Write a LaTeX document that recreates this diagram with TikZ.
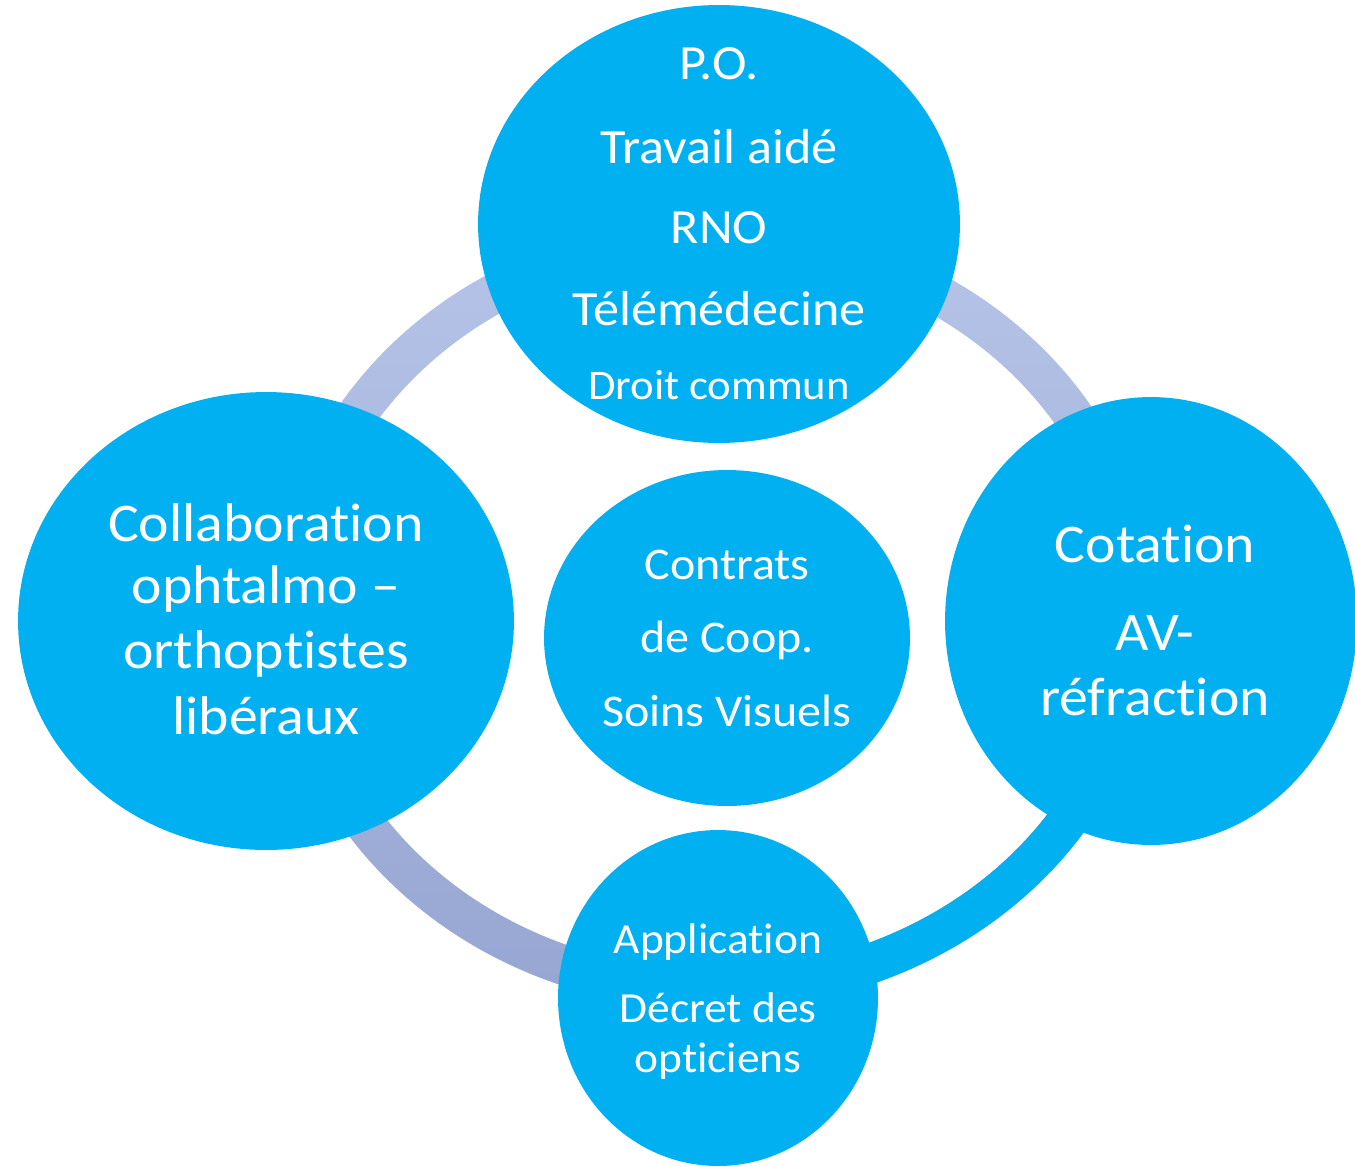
\documentclass[tikz,border=0pt]{standalone}
\usepackage{fontspec}
\setmainfont{Carlito}[FakeStretch=1.06, Ligatures={NoCommon}]
\usetikzlibrary{shapes.geometric}
\definecolor{bubblecyan}{RGB}{0,176,240}
\definecolor{ringtop}{RGB}{182,196,232}
\definecolor{ringbot}{RGB}{150,166,210}
\begin{document}
\begin{tikzpicture}[x=0.02cm,y=-0.02cm,
  bubble/.style={ellipse, fill=bubblecyan, draw=none, inner sep=0pt},
  lbl/.style={text=white, inner sep=0pt, anchor=base},
  big/.style={lbl, font=\fontsize{31}{36}\selectfont},
  mid/.style={lbl, font=\fontsize{28}{34}\selectfont},
  small/.style={lbl, font=\fontsize{25.8}{31}\selectfont},
  tiny/.style={lbl, font=\fontsize{24.4}{29}\selectfont},
  tinier/.style={lbl, font=\fontsize{24}{29}\selectfont},
]
\useasboundingbox (0,0) rectangle (1355,1166);

% cycle band behind the bubbles
\coordinate (ringc) at (715,614);
\shade[top color=ringtop, bottom color=ringbot, even odd rule]
  (ringc) ellipse [x radius=8.84cm, y radius=7.92cm]
  (ringc) ellipse [x radius=8.04cm, y radius=7.12cm];
% highlighted stretch of the band
\draw[bubblecyan, line width=0.8cm]
  (ringc) ++(-20:8.44cm and 7.52cm)
  arc[start angle=-20, end angle=-105, x radius=8.44cm, y radius=7.52cm];

% bubbles
\node[bubble, minimum width=9.64cm, minimum height=8.76cm] (top) at (719,224) {};
\node[bubble, minimum width=9.92cm, minimum height=9.16cm] (left) at (266,621) {};
\node[bubble, minimum width=8.24cm, minimum height=8.96cm] (right) at (1151,621) {};
\node[bubble, minimum width=7.32cm, minimum height=6.72cm] (center) at (727,638) {};
\node[bubble, minimum width=6.40cm, minimum height=6.72cm] (bottom) at (718,998) {};

% top bubble text
\node[mid] (t1) at (719,80) {P.O.};
\node[mid] (t2) at (719,163) {Travail aidé};
\node[mid] (t3) at (719,243) {RNO};
\node[mid] (t4) at (719,325) {Télémédecine};
\node[tinier] (t5) at (719,399) {Droit commun};

% left bubble text
\node[big] (l1) at (266,541) {Collaboration};
\node[big] (l2) at (266,603) {ophtalmo –};
\node[big] (l3) at (266,668) {orthoptistes};
\node[big] (l4) at (266,734) {libéraux};

% right bubble text
\node[big] (r1) at (1155,562) {Cotation};
\node[big] (r2) at (1155,650) {AV-};
\node[big] (r3) at (1155,715) {réfraction};

% centre bubble text
\node[small] (c1) at (727,579) {Contrats};
\node[small] (c2) at (727,652) {de Coop.};
\node[small] (c3) at (727,726) {Soins Visuels};

% bottom bubble text
\node[tiny] (b1) at (718,953) {Application};
\node[tiny] (b2) at (718,1022) {Décret des};
\node[tiny] (b3) at (718,1072) {opticiens};
\end{tikzpicture}
\end{document}
